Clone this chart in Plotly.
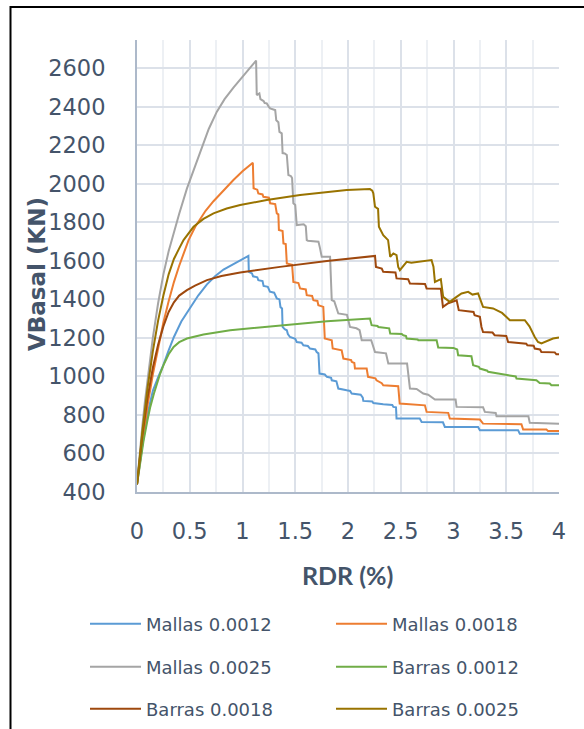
import plotly.graph_objects as go

# Drift ratio (%) and base shear (kN) for each wall configuration
mallas_0012_x = [0, 0.05, 0.1, 0.15, 0.2, 0.25, 0.3, 0.35, 0.42, 0.5, 0.58, 0.663, 0.74, 0.82, 0.9, 0.978, 1.056,
                 1.06, 1.09, 1.10, 1.14, 1.15, 1.19, 1.20, 1.24, 1.26, 1.30, 1.325, 1.35, 1.36, 1.375,
                 1.38, 1.40, 1.42, 1.43, 1.45, 1.50, 1.514, 1.56, 1.577, 1.62, 1.64, 1.69, 1.703, 1.72,
                 1.73, 1.78, 1.80, 1.84, 1.846, 1.89, 1.908, 1.97, 1.988, 2.02, 2.035, 2.12, 2.13, 2.14,
                 2.145, 2.23, 2.24, 2.32, 2.334, 2.42, 2.43, 2.455, 2.46, 2.68, 2.698, 2.90, 2.918, 3.233,
                 3.25, 3.612, 3.628, 4.0]
mallas_0012_y = [440, 640, 805, 925, 995, 1060, 1135, 1205, 1285, 1355, 1420, 1478, 1520, 1555, 1580, 1604, 1626,
                 1543, 1535, 1520, 1515, 1500, 1495, 1470, 1465, 1440, 1435, 1405, 1400, 1360, 1353,
                 1257, 1245, 1240, 1220, 1205, 1195, 1179, 1175, 1162, 1158, 1145, 1140, 1127, 1120,
                 1015, 1010, 998, 993, 980, 975, 937, 933, 928, 925, 911, 905, 894, 890,
                 873, 870, 862, 860, 856, 852, 842, 840, 781, 781, 764, 762, 738, 738,
                 721, 721, 703, 703]

mallas_0018_x = [0, 0.05, 0.1, 0.15, 0.2, 0.25, 0.3, 0.35, 0.4, 0.45, 0.489, 0.552, 0.65, 0.725, 0.8, 0.914,
                 1.0, 1.098,
                 1.105, 1.14, 1.15, 1.19, 1.198, 1.25, 1.262, 1.31, 1.325, 1.34, 1.345, 1.38, 1.388, 1.41,
                 1.42, 1.47, 1.482, 1.53, 1.546, 1.60, 1.609, 1.66, 1.672, 1.71, 1.719, 1.76, 1.766, 1.78,
                 1.84, 1.846, 1.855, 1.935, 1.94, 1.956, 2.03, 2.035, 2.06, 2.066, 2.177, 2.19, 2.26, 2.27,
                 2.32, 2.334, 2.476, 2.49, 2.729, 2.745, 2.95, 2.965, 3.25, 3.28, 3.644, 3.66, 3.881, 3.896,
                 4.0]
mallas_0018_y = [440, 660, 850, 1010, 1150, 1280, 1390, 1490, 1575, 1650, 1708, 1777, 1860, 1910, 1955, 2020,
                 2065, 2110,
                 1977, 1970, 1950, 1945, 1933, 1928, 1899, 1895, 1847, 1842, 1760, 1755, 1691, 1688,
                 1587, 1580, 1491, 1485, 1457, 1452, 1422, 1418, 1396, 1392, 1370, 1365, 1361, 1197,
                 1192, 1188, 1145, 1140, 1136, 1093, 1085, 1076, 1070, 1041, 1041, 998, 990, 980,
                 965, 954, 949, 859, 850, 816, 811, 781, 776, 755, 752, 724, 724, 717,
                 717]

mallas_0025_x = [0, 0.025, 0.05, 0.075, 0.1, 0.15, 0.2, 0.25, 0.3, 0.35, 0.4, 0.473, 0.55, 0.6, 0.68, 0.757,
                 0.83, 0.914, 1.0, 1.07, 1.129,
                 1.135, 1.16, 1.17, 1.183, 1.20, 1.21, 1.23, 1.25, 1.262, 1.30, 1.31, 1.32, 1.34, 1.35,
                 1.372, 1.38, 1.40, 1.42, 1.435, 1.46, 1.47, 1.482, 1.50, 1.514, 1.58, 1.60, 1.609, 1.62,
                 1.72, 1.735, 1.751, 1.83, 1.846, 1.87, 1.908, 1.99, 2.019, 2.08, 2.11, 2.13, 2.22, 2.256,
                 2.36, 2.382, 2.56, 2.587, 2.65, 2.713, 2.76, 2.824, 3.02, 3.029, 3.28, 3.297, 3.40, 3.408,
                 3.71, 3.723, 4.0]
mallas_0025_y = [440, 600, 740, 870, 990, 1200, 1380, 1530, 1650, 1755, 1845, 1975, 2090, 2170, 2285, 2375,
                 2440, 2500, 2558, 2603, 2640,
                 2461, 2470, 2440, 2435, 2430, 2420, 2418, 2400, 2392, 2385, 2383, 2330, 2320, 2270,
                 2262, 2160, 2158, 2150, 2046, 2040, 2030, 1899, 1890, 1786, 1790, 1780, 1708, 1705,
                 1700, 1665, 1621, 1621, 1396, 1390, 1327, 1320, 1257, 1250, 1240, 1188, 1188, 1127,
                 1120, 1067, 1067, 937, 935, 911, 905, 880, 880, 842, 840, 816, 810, 793,
                 793, 759, 754]

barras_0012_x = [0, 0.03, 0.063, 0.1, 0.126, 0.16, 0.189, 0.22, 0.252, 0.3, 0.347, 0.4, 0.473, 0.55, 0.63,
                 0.883, 1.356, 1.8, 2.208,
                 2.224, 2.28, 2.287, 2.39, 2.40, 2.51, 2.524, 2.55, 2.556, 2.66, 2.666, 2.84, 2.855,
                 3.0, 3.013, 3.035, 3.044, 3.17, 3.186, 3.24, 3.25, 3.32, 3.328, 3.49, 3.502, 3.59,
                 3.597, 3.786, 3.817, 3.912, 3.928, 4.0]
barras_0012_y = [440, 560, 669, 775, 842, 910, 963, 1015, 1060, 1115, 1153, 1178, 1197, 1209, 1218,
                 1240, 1266, 1287, 1301,
                 1266, 1262, 1257, 1250, 1223, 1220, 1214, 1210, 1197, 1192, 1188, 1188, 1150,
                 1148, 1145, 1140, 1110, 1105, 1058, 1050, 1041, 1030, 1024, 1010, 1006, 1000,
                 989, 980, 966, 963, 954, 954]

barras_0018_x = [0, 0.05, 0.1, 0.15, 0.2, 0.25, 0.3, 0.35, 0.4, 0.473, 0.55, 0.663, 0.8, 0.978, 1.356, 1.8,
                 2.256,
                 2.265, 2.32, 2.334, 2.45, 2.46, 2.57, 2.587, 2.73, 2.745, 2.88, 2.90, 2.95, 3.03,
                 3.05, 3.19, 3.2, 3.25, 3.265, 3.28, 3.37, 3.39, 3.50, 3.518, 3.69, 3.70, 3.76, 3.77,
                 3.82, 3.833, 3.96, 3.975, 4.0]
barras_0018_y = [440, 690, 890, 1045, 1165, 1260, 1335, 1385, 1420, 1448, 1472, 1500, 1522, 1540, 1569, 1600,
                 1626,
                 1569, 1560, 1543, 1540, 1509, 1505, 1483, 1480, 1457, 1455, 1361, 1380, 1395,
                 1344, 1335, 1318, 1310, 1257, 1231, 1228, 1214, 1210, 1179, 1170, 1162, 1160, 1145,
                 1140, 1127, 1125, 1115, 1115]

barras_0025_x = [0, 0.05, 0.1, 0.15, 0.2, 0.25, 0.3, 0.35, 0.4, 0.441, 0.536, 0.63, 0.725, 0.85, 0.978, 1.23,
                 1.546, 1.988, 2.208,
                 2.23, 2.24, 2.256, 2.285, 2.293, 2.334, 2.36, 2.38, 2.40, 2.43, 2.46,
                 2.476, 2.492, 2.556, 2.60, 2.70, 2.792, 2.81, 2.824, 2.86, 2.88, 2.902, 2.965, 3.029,
                 3.076, 3.139, 3.18, 3.233, 3.28, 3.375, 3.42, 3.46, 3.502, 3.534, 3.676, 3.72, 3.77,
                 3.801, 3.833, 3.943, 4.0]
barras_0025_y = [440, 710, 940, 1130, 1290, 1420, 1530, 1610, 1665, 1708, 1777, 1818, 1847, 1872, 1890, 1916,
                 1942, 1968, 1973,
                 1965, 1951, 1881, 1870, 1777, 1734, 1720, 1708, 1621, 1639, 1630,
                 1569, 1552, 1595, 1590, 1598, 1604, 1570, 1491, 1500, 1505, 1413, 1387, 1413,
                 1431, 1439, 1425, 1431, 1361, 1353, 1340, 1330, 1309, 1292, 1292, 1260, 1205,
                 1179, 1171, 1197, 1202]

series = [
    ("Mallas 0.0012", mallas_0012_x, mallas_0012_y, "#5B9BD5"),
    ("Mallas 0.0018", mallas_0018_x, mallas_0018_y, "#ED7D31"),
    ("Mallas 0.0025", mallas_0025_x, mallas_0025_y, "#A5A5A5"),
    ("Barras 0.0012", barras_0012_x, barras_0012_y, "#70AD47"),
    ("Barras 0.0018", barras_0018_x, barras_0018_y, "#9E480E"),
    ("Barras 0.0025", barras_0025_x, barras_0025_y, "#997300"),
]

x_ticks = [0, 0.5, 1, 1.5, 2, 2.5, 3, 3.5, 4]
y_ticks = [400, 600, 800, 1000, 1200, 1400, 1600, 1800, 2000, 2200, 2400, 2600]

TEXT = "#44546A"
BODY_FONT = "DejaVu Sans, Verdana, sans-serif"

W, H = 584, 729
ml, mr, mt, mb = 137, 25, 40, 237
pw, ph = W - ml - mr, H - mt - mb


def px_x(p):
    return (p - ml) / pw


def px_y(p):
    return 1 - (p - mt) / ph


# legend laid out as a 2 x 3 grid, one single-entry legend per cell
legend_cols = [85, 331]
legend_rows = [624, 667, 709]

fig = go.Figure()
legend_layout = {}
for i, (name, xs, ys, color) in enumerate(series):
    key = "legend" if i == 0 else f"legend{i + 1}"
    fig.add_trace(go.Scatter(x=xs, y=ys, mode="lines", name=name,
                             line=dict(color=color, width=2), legend=key))
    legend_layout[key] = dict(
        x=px_x(legend_cols[i % 2]), y=px_y(legend_rows[i // 2]),
        xanchor="left", yanchor="middle", orientation="v",
        font=dict(family=BODY_FONT, size=18, color=TEXT),
        itemwidth=51, bgcolor="rgba(0,0,0,0)", borderwidth=0,
    )

fig.update_layout(
    width=W, height=H,
    margin=dict(l=ml, r=mr, t=mt, b=mb, autoexpand=False),
    paper_bgcolor="white", plot_bgcolor="white",
    showlegend=True,
    **legend_layout,
    xaxis=dict(range=[0, 4], tickvals=x_ticks, ticktext=[f"{v:g}" for v in x_ticks],
               showgrid=True, gridcolor="#DCE1E9", gridwidth=1.5,
               minor=dict(dtick=0.25, tick0=0, showgrid=True, gridcolor="#EDF0F4", gridwidth=1.5),
               showline=True, linecolor="#ADB9CA", linewidth=2,
               zeroline=False, ticks="", ticklabelstandoff=18,
               tickfont=dict(family=BODY_FONT, size=22.5, color=TEXT)),
    yaxis=dict(range=[400, 2747], tickvals=y_ticks,
               showgrid=True, gridcolor="#DCE1E9", gridwidth=1.5,
               showline=True, linecolor="#ADB9CA", linewidth=2,
               zeroline=False, ticks="", ticklabelstandoff=25,
               tickfont=dict(family=BODY_FONT, size=22.5, color=TEXT)),
    annotations=[
        dict(text="<b>RDR (%)</b>", xref="paper", yref="paper",
             x=px_x(347.5), y=px_y(575), xanchor="center", yanchor="middle", showarrow=False,
             font=dict(family="Lato, sans-serif", size=25, color=TEXT)),
        dict(text="<b>VBasal (KN)</b>", xref="paper", yref="paper",
             x=px_x(37), y=px_y(274), xanchor="center", yanchor="middle", showarrow=False,
             textangle=-90,
             font=dict(family=BODY_FONT, size=23, color=TEXT)),
    ],
    shapes=[
        dict(type="path", xref="paper", yref="paper",
             path=f"M {px_x(10.5)},{px_y(729)} L {px_x(10.5)},{px_y(7)} L {px_x(584)},{px_y(7)}",
             line=dict(color="black", width=2), layer="above"),
    ],
)

fig.write_html("out.html")
